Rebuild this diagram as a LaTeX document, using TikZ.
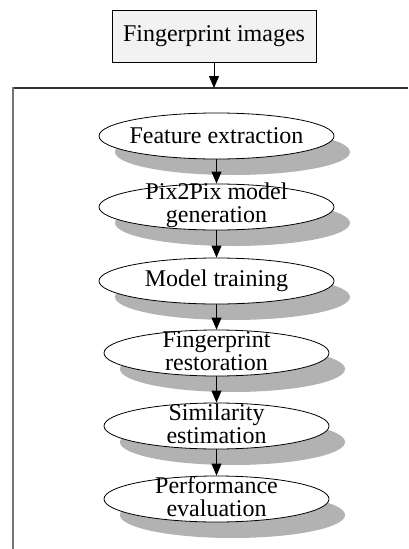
\documentclass[tikz,border=0pt]{standalone}
\usepackage{fontspec}
\setmainfont{Liberation Serif}
\usetikzlibrary{shapes.geometric,shadows,arrows.meta}
\tikzset{
  flowtxt/.style={font=\fontsize{24}{23}\selectfont, align=center, inner sep=0pt},
  stepell/.style={ellipse, draw=black, fill=white, line width=0.8pt, inner sep=0pt,
    minimum height=46pt,
    drop shadow={shadow xshift=16pt, shadow yshift=-16pt, opacity=1, fill=black!30}},
  wide/.style={minimum width=235pt},
  narrow/.style={minimum width=225pt},
  flowarrow/.style={draw=black, line width=0.9pt, -{Triangle[width=10pt,length=12pt]}}
}
\begin{document}
\begin{tikzpicture}[x=1pt,y=-1pt]
\useasboundingbox (0,0) rectangle (408,549);
% top box
\node[draw=black, fill=black!5, line width=0.8pt, minimum width=204pt, minimum height=52pt, inner sep=0pt] (box) at (214,36) {};
\node[flowtxt] (boxt) at (214,36) {Fingerprint images};
% frame
\coordinate (ftop) at (214,88);
\draw[black!80, line width=1.2pt] (13,88) -- (408,88);
\draw[black!55, line width=2pt] (13,87.4) -- (13,549);
\draw[flowarrow] (box.south) -- (ftop);
% ellipses
\node[stepell, wide] (e1) at (216.5,136) {};
\node[stepell, wide] (e2) at (216.5,207) {};
\node[stepell, wide] (e3) at (216.5,281) {};
\node[stepell, narrow] (e4) at (216.5,353) {};
\node[stepell, narrow] (e5) at (216.5,426) {};
\node[stepell, narrow] (e6) at (216.5,499) {};
\node[flowtxt] (t1) at (216.5,136) {Feature extraction};
\node[flowtxt] (t2) at (216.5,205) {Pix2Pix model\\generation};
\node[flowtxt] (t3) at (216.5,281) {Model training};
\node[flowtxt] (t4) at (216.5,351) {Fingerprint\\restoration};
\node[flowtxt] (t5) at (216.5,424) {Similarity\\estimation};
\node[flowtxt] (t6) at (216.5,497) {Performance\\evaluation};
% arrows
\draw[flowarrow] (e1.south) -- (e2.north);
\draw[flowarrow] (e2.south) -- (e3.north);
\draw[flowarrow] (e3.south) -- (e4.north);
\draw[flowarrow] (e4.south) -- (e5.north);
\draw[flowarrow] (e5.south) -- (e6.north);
\end{tikzpicture}
\end{document}
